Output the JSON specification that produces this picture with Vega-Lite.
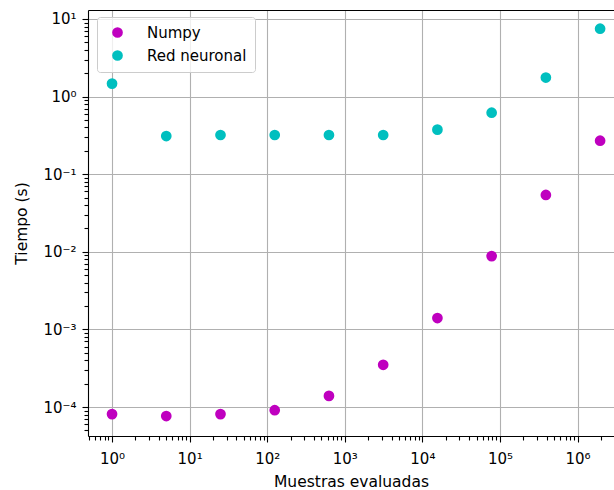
{
  "$schema": "https://vega.github.io/schema/vega-lite/v6.json",
  "width": 526,
  "height": 426,
  "autosize": "none",
  "padding": {"left": 88, "top": 10, "right": 0, "bottom": 54},
  "background": "white",
  "config": {
    "view": {"stroke": null},
    "font": "DejaVu Sans",
    "axis": {
      "labelFont": "DejaVu Sans",
      "titleFont": "DejaVu Sans",
      "labelFontSize": 15,
      "titleFontSize": 15.5,
      "labelColor": "black",
      "titleColor": "black",
      "titleFontWeight": "normal",
      "domainColor": "black",
      "domainWidth": 1.1,
      "tickColor": "black",
      "tickWidth": 1.1,
      "gridColor": "#b0b0b0",
      "gridWidth": 1.1,
      "gridOpacity": 1
    }
  },
  "data": {
    "values": [
      {"muestras": 1, "tiempo": 0.000081, "serie": "Numpy"},
      {"muestras": 5, "tiempo": 0.0000765, "serie": "Numpy"},
      {"muestras": 25, "tiempo": 0.000081, "serie": "Numpy"},
      {"muestras": 125, "tiempo": 0.000091, "serie": "Numpy"},
      {"muestras": 625, "tiempo": 0.000139, "serie": "Numpy"},
      {"muestras": 3125, "tiempo": 0.00035, "serie": "Numpy"},
      {"muestras": 15625, "tiempo": 0.0014, "serie": "Numpy"},
      {"muestras": 78125, "tiempo": 0.0088, "serie": "Numpy"},
      {"muestras": 390625, "tiempo": 0.054, "serie": "Numpy"},
      {"muestras": 1953125, "tiempo": 0.27, "serie": "Numpy"},
      {"muestras": 1, "tiempo": 1.47, "serie": "Red neuronal"},
      {"muestras": 5, "tiempo": 0.31, "serie": "Red neuronal"},
      {"muestras": 25, "tiempo": 0.32, "serie": "Red neuronal"},
      {"muestras": 125, "tiempo": 0.32, "serie": "Red neuronal"},
      {"muestras": 625, "tiempo": 0.32, "serie": "Red neuronal"},
      {"muestras": 3125, "tiempo": 0.32, "serie": "Red neuronal"},
      {"muestras": 15625, "tiempo": 0.375, "serie": "Red neuronal"},
      {"muestras": 78125, "tiempo": 0.62, "serie": "Red neuronal"},
      {"muestras": 390625, "tiempo": 1.76, "serie": "Red neuronal"},
      {"muestras": 1953125, "tiempo": 7.5, "serie": "Red neuronal"}
    ]
  },
  "resolve": {"axis": {"x": "independent", "y": "independent"}},
  "layer": [
    {
      "mark": {"type": "point", "filled": true, "size": 115, "opacity": 1, "strokeWidth": 0},
      "encoding": {
        "x": {
          "field": "muestras",
          "type": "quantitative",
          "scale": {"type": "log", "domain": [0.49, 2950000], "nice": false, "zero": false},
          "axis": {
            "orient": "bottom",
            "title": "Muestras evaluadas",
            "values": [1, 10, 100, 1000, 10000, 100000, 1000000],
            "labelExpr": "'10' + ['⁰','¹','²','³','⁴','⁵','⁶'][round(log(datum.value)/LN10)]",
            "grid": true,
            "tickSize": 6,
            "labelPadding": 9,
            "titlePadding": 8
          }
        },
        "y": {
          "field": "tiempo",
          "type": "quantitative",
          "scale": {"type": "log", "domain": [0.0000423, 13.06], "nice": false, "zero": false},
          "axis": {
            "orient": "left",
            "title": "Tiempo (s)",
            "values": [0.0001, 0.001, 0.01, 0.1, 1, 10],
            "labelExpr": "'10' + ['⁻⁴','⁻³','⁻²','⁻¹','⁰','¹'][round(log(datum.value)/LN10)+4]",
            "grid": true,
            "tickSize": 6,
            "labelPadding": 6,
            "titlePadding": 13
          }
        },
        "color": {
          "field": "serie",
          "type": "nominal",
          "scale": {"domain": ["Numpy", "Red neuronal"], "range": ["#bf00bf", "#00bfbf"]},
          "legend": {
            "title": null,
            "orient": "none",
            "legendX": 9,
            "legendY": 7,
            "fillColor": "rgba(255,255,255,0.8)",
            "strokeColor": "#cccccc",
            "cornerRadius": 3,
            "padding": 8,
            "symbolType": "circle",
            "symbolSize": 115,
            "symbolStrokeWidth": 0,
            "labelFont": "DejaVu Sans",
            "labelFontSize": 15,
            "labelColor": "black",
            "labelOffset": 22,
            "rowPadding": 7,
            "symbolOffset": 5
          }
        }
      }
    },
    {
      "mark": {"type": "point", "opacity": 0},
      "encoding": {
        "x": {
          "field": "muestras",
          "type": "quantitative",
          "axis": {
            "orient": "bottom",
            "title": null,
            "labels": false,
            "grid": false,
            "domain": false,
            "tickSize": 4,
            "values": [0.5, 0.6, 0.7, 0.8, 0.9, 2, 3, 4, 5, 6, 7, 8, 9, 20, 30, 40, 50, 60, 70, 80, 90, 200, 300, 400, 500, 600, 700, 800, 900, 2000, 3000, 4000, 5000, 6000, 7000, 8000, 9000, 20000, 30000, 40000, 50000, 60000, 70000, 80000, 90000, 200000, 300000, 400000, 500000, 600000, 700000, 800000, 900000, 2000000]
          }
        },
        "y": {
          "field": "tiempo",
          "type": "quantitative",
          "axis": {
            "orient": "left",
            "title": null,
            "labels": false,
            "grid": false,
            "domain": false,
            "tickSize": 4,
            "values": [0.00005, 0.00006, 0.00007, 0.00008, 0.00009, 0.0002, 0.0003, 0.0004, 0.0005, 0.0006, 0.0007, 0.0008, 0.0009, 0.002, 0.003, 0.004, 0.005, 0.006, 0.007, 0.008, 0.009, 0.02, 0.03, 0.04, 0.05, 0.06, 0.07, 0.08, 0.09, 0.2, 0.3, 0.4, 0.5, 0.6, 0.7, 0.8, 0.9, 2, 3, 4, 5, 6, 7, 8, 9]
          }
        }
      }
    },
    {
      "mark": {"type": "point", "opacity": 0},
      "encoding": {
        "x": {
          "field": "muestras",
          "type": "quantitative",
          "axis": {
            "orient": "top",
            "title": null,
            "labels": false,
            "ticks": false,
            "grid": false,
            "domain": true
          }
        }
      }
    }
  ]
}
